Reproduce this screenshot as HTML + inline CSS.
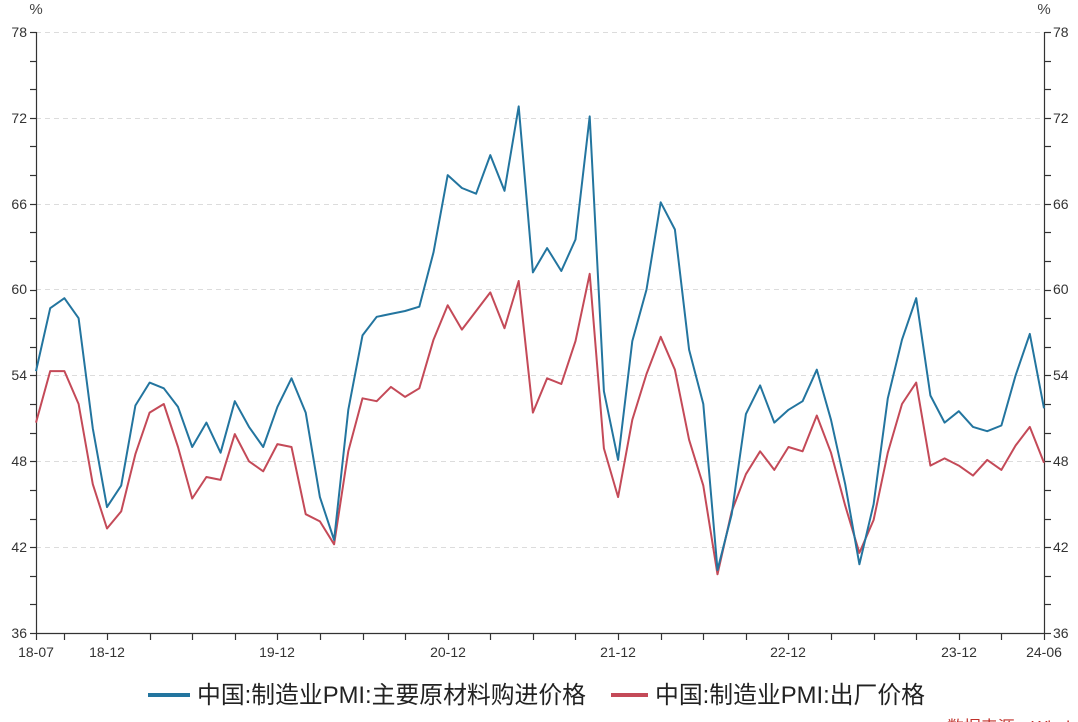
<!DOCTYPE html>
<html>
<head>
<meta charset="utf-8">
<style>
html,body{margin:0;padding:0;background:#fff;}
body{width:1078px;height:722px;overflow:hidden;}
svg{display:block;font-family:"Liberation Sans","Noto Sans CJK SC",sans-serif;}
</style>
</head>
<body>
<svg id="chart" width="1078" height="722" viewBox="0 0 1078 722" xmlns="http://www.w3.org/2000/svg">
  <g id="grid" stroke="#dcdcdc" stroke-width="1" stroke-dasharray="5,4">
    <line x1="36" y1="32.5" x2="1044" y2="32.5"/>
    <line x1="36" y1="118.5" x2="1044" y2="118.5"/>
    <line x1="36" y1="204.5" x2="1044" y2="204.5"/>
    <line x1="36" y1="289.5" x2="1044" y2="289.5"/>
    <line x1="36" y1="375.5" x2="1044" y2="375.5"/>
    <line x1="36" y1="461.5" x2="1044" y2="461.5"/>
    <line x1="36" y1="547.5" x2="1044" y2="547.5"/>
  </g>
  <g id="axes" stroke="#333" stroke-width="1.2" fill="none"></g>
  <g font-size="14" fill="#333" text-anchor="end">
    <text x="27" y="37">78</text>
    <text x="27" y="123">72</text>
    <text x="27" y="209">66</text>
    <text x="27" y="294">60</text>
    <text x="27" y="380">54</text>
    <text x="27" y="466">48</text>
    <text x="27" y="552">42</text>
    <text x="27" y="638">36</text>
  </g>
  <g font-size="14" fill="#333" text-anchor="start">
    <text x="1053" y="37">78</text>
    <text x="1053" y="123">72</text>
    <text x="1053" y="209">66</text>
    <text x="1053" y="294">60</text>
    <text x="1053" y="380">54</text>
    <text x="1053" y="466">48</text>
    <text x="1053" y="552">42</text>
    <text x="1053" y="638">36</text>
  </g>
  <text x="36" y="14" font-size="15" fill="#444" text-anchor="middle">%</text>
  <text x="1044" y="14" font-size="15" fill="#444" text-anchor="middle">%</text>
  <g font-size="14" fill="#333" text-anchor="middle">
    <text x="36" y="657">18-07</text>
    <text x="107" y="657">18-12</text>
    <text x="277" y="657">19-12</text>
    <text x="448" y="657">20-12</text>
    <text x="618" y="657">21-12</text>
    <text x="788" y="657">22-12</text>
    <text x="959" y="657">23-12</text>
    <text x="1044" y="657">24-06</text>
  </g>
  <polyline id="red" fill="none" stroke="#c44a58" stroke-width="2" stroke-linejoin="round" points=""/>
  <polyline id="blue" fill="none" stroke="#23759f" stroke-width="2" stroke-linejoin="round" points=""/>
  <line x1="148" y1="695" x2="190" y2="695" stroke="#23759f" stroke-width="4"/>
  <text x="197" y="703" font-size="24" fill="#222" textLength="389" lengthAdjust="spacingAndGlyphs">中国:制造业PMI:主要原材料购进价格</text>
  <line x1="611" y1="695" x2="648" y2="695" stroke="#c44a58" stroke-width="4"/>
  <text x="655" y="703" font-size="24" fill="#222" textLength="270" lengthAdjust="spacingAndGlyphs">中国:制造业PMI:出厂价格</text>
  <text x="947" y="732" font-size="16" fill="#c0302a" textLength="123" lengthAdjust="spacingAndGlyphs">数据来源：Wind</text>
</svg>
<script>
(function(){
  var blue=[54.3,58.7,59.4,58.0,50.3,44.8,
    46.3,51.9,53.5,53.1,51.8,49.0,50.7,48.6,52.2,50.4,49.0,51.8,
    53.8,51.4,45.5,42.5,51.6,56.8,58.1,58.3,58.5,58.8,62.6,68.0,
    67.1,66.7,69.4,66.9,72.8,61.2,62.9,61.3,63.5,72.1,52.9,48.1,
    56.4,60.0,66.1,64.2,55.8,52.0,40.4,44.3,51.3,53.3,50.7,51.6,
    52.2,54.4,50.9,46.4,40.8,45.0,52.4,56.5,59.4,52.6,50.7,51.5,
    50.4,50.1,50.5,54.0,56.9,51.7];
  var red=[50.7,54.3,54.3,52.0,46.4,43.3,
    44.5,48.5,51.4,52.0,49.0,45.4,46.9,46.7,49.9,48.0,47.3,49.2,
    49.0,44.3,43.8,42.2,48.7,52.4,52.2,53.2,52.5,53.1,56.5,58.9,
    57.2,58.5,59.8,57.3,60.6,51.4,53.8,53.4,56.4,61.1,48.9,45.5,
    50.9,54.1,56.7,54.4,49.5,46.3,40.1,44.5,47.1,48.7,47.4,49.0,
    48.7,51.2,48.6,44.9,41.6,43.9,48.6,52.0,53.5,47.7,48.2,47.7,
    47.0,48.1,47.4,49.1,50.4,47.9];
  function X(i){return 36+i*1008/71;}
  function Y(v){return 633-(v-36)*601/42;}
  function pts(a){return a.map(function(v,i){return X(i).toFixed(1)+","+Y(v).toFixed(1);}).join(" ");}
  document.getElementById("blue").setAttribute("points",pts(blue));
  document.getElementById("red").setAttribute("points",pts(red));
  var ns="http://www.w3.org/2000/svg", g=document.getElementById("axes");
  function ln(x1,y1,x2,y2){var l=document.createElementNS(ns,"line");l.setAttribute("x1",x1);l.setAttribute("y1",y1);l.setAttribute("x2",x2);l.setAttribute("y2",y2);g.appendChild(l);}
  ln(36.5,32,36.5,634);
  ln(1044.5,32,1044.5,634);
  ln(36,633.5,1045,633.5);
  for(var k=0;k<=21;k++){var y=Math.round(633-k*601/21)+0.5;ln(30,y,36.5,y);ln(1044.5,y,1051,y);}
  var ti=[0,2,5,8,11,14,17,20,23,26,29,32,35,38,41,44,47,50,53,56,59,62,65,68,71];
  ti.forEach(function(i){var x=Math.round(X(i))+0.5;ln(x,633.5,x,640);});
})();
</script>
</body>
</html>
